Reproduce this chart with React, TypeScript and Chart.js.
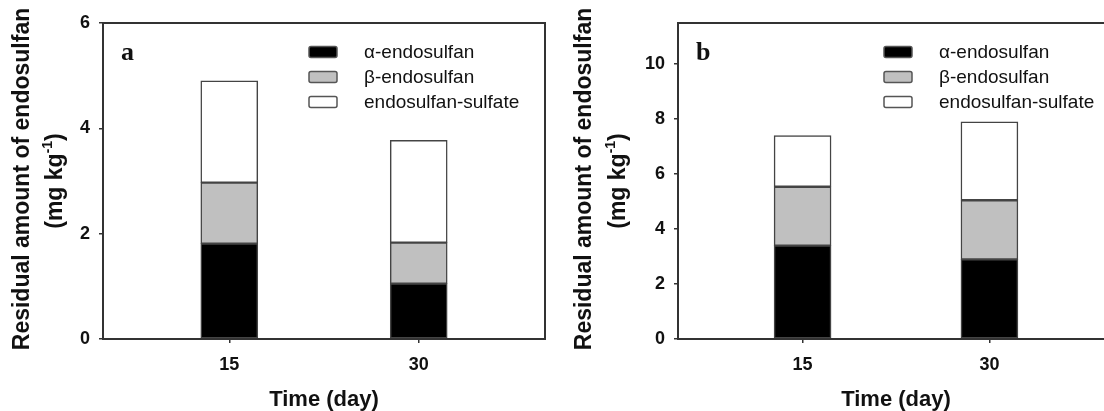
import React, { useEffect, useRef } from 'react';
import { Chart, registerables } from 'chart.js';
Chart.register(...registerables);

// ---- data ----
const timeDays = [15, 30];
const seriesNames = ['α-endosulfan', 'β-endosulfan', 'endosulfan-sulfate'];
const seriesColors = ['#000000', '#c0c0c0', '#ffffff'];
const alphaA = [1.81, 1.05];
const betaA = [1.16, 0.78];
const sulfateA = [1.93, 1.94];
const alphaB = [3.4, 2.9];
const betaB = [2.14, 2.15];
const sulfateB = [1.86, 2.85];
const yTicksA = [0, 2, 4, 6];
const yTicksB = [0, 2, 4, 6, 8, 10];
const yMaxA = 6;
const yMaxB = 11.5;
const xMin = 5;
const xMax = 40;
const yTitleLine1 = 'Residual amount of endosulfan';
const yTitleUnit = ['(mg kg', '-1', ')'];
const xTitle = 'Time (day)';

const SANS = '"Liberation Sans", Arial, sans-serif';
const SERIF = '"Liberation Serif", "Times New Roman", serif';

const decorPlugin = {
  id: 'decor',
  afterDatasetsDraw(chart: any) {
    const opts = chart.options.plugins.decor;
    const { ctx, chartArea: ca } = chart;
    ctx.save();
    // frame
    ctx.strokeStyle = '#333';
    ctx.lineWidth = 2;
    ctx.strokeRect(ca.left, ca.top, ca.right - ca.left, ca.bottom - ca.top);
    // panel letter
    ctx.fillStyle = '#111';
    ctx.font = `bold 26px ${SERIF}`;
    ctx.textAlign = 'left';
    ctx.textBaseline = 'alphabetic';
    ctx.fillText(opts.letter, ca.left + 18, ca.top + 37);
    // legend
    chart.data.datasets.forEach((ds: any, i: number) => {
      const y = ca.top + 29 + 25 * i;
      const bx = ca.left + 206;
      ctx.fillStyle = ds.backgroundColor;
      ctx.strokeStyle = '#555';
      ctx.lineWidth = 1.5;
      ctx.beginPath();
      ctx.roundRect(bx, y - 5.5, 28, 11, 2);
      ctx.fill();
      ctx.stroke();
      ctx.fillStyle = '#111';
      ctx.font = `19px ${SANS}`;
      ctx.textBaseline = 'middle';
      ctx.fillText(ds.label, ca.left + 261, y + 1);
    });
    // y title
    const midY = (ca.top + ca.bottom) / 2;
    ctx.fillStyle = '#111';
    ctx.save();
    ctx.translate(ca.left + opts.t1dx, midY - 2);
    ctx.rotate(-Math.PI / 2);
    ctx.font = `bold 23px ${SANS}`;
    ctx.textAlign = 'center';
    ctx.textBaseline = 'middle';
    ctx.fillText(yTitleLine1, 0, 0);
    ctx.restore();
    ctx.save();
    ctx.translate(ca.left + opts.t2dx, midY);
    ctx.rotate(-Math.PI / 2);
    ctx.textAlign = 'left';
    ctx.textBaseline = 'middle';
    const bigFont = `bold 23px ${SANS}`;
    const supFont = `bold 14px ${SANS}`;
    ctx.font = bigFont;
    const w0 = ctx.measureText(yTitleUnit[0]).width;
    const w2 = ctx.measureText(yTitleUnit[2]).width;
    ctx.font = supFont;
    const w1 = ctx.measureText(yTitleUnit[1]).width;
    let x = -(w0 + w1 + w2) / 2;
    ctx.font = bigFont;
    ctx.fillText(yTitleUnit[0], x, 0);
    x += w0;
    ctx.font = supFont;
    ctx.fillText(yTitleUnit[1], x, -8);
    x += w1;
    ctx.font = bigFont;
    ctx.fillText(yTitleUnit[2], x, 0);
    ctx.restore();
    // x title
    ctx.font = `bold 22px ${SANS}`;
    ctx.textAlign = 'center';
    ctx.textBaseline = 'alphabetic';
    ctx.fillText(xTitle, (ca.left + ca.right) / 2, 406);
    ctx.restore();
  },
};

function makeConfig(
  alpha: number[],
  beta: number[],
  sulfate: number[],
  yTicks: number[],
  yMax: number,
  letter: string,
  yAxisWidth: number,
  padRight: number,
  t1dx: number,
  t2dx: number
): any {
  const series = [alpha, beta, sulfate];
  return {
    type: 'bar',
    data: {
      datasets: series.map((vals, i) => ({
        label: seriesNames[i],
        data: timeDays.map((d, j) => ({ x: d, y: vals[j] })),
        backgroundColor: seriesColors[i],
        borderColor: '#444',
        borderWidth: 1.5,
        borderSkipped: false,
        barThickness: 57,
      })),
    },
    plugins: [decorPlugin],
    options: {
      responsive: false,
      animation: false,
      devicePixelRatio: 1,
      events: [],
      layout: { padding: { top: 23, left: 0, right: padRight, bottom: 0 } },
      plugins: {
        legend: { display: false },
        tooltip: { enabled: false },
        decor: { letter, t1dx, t2dx },
      },
      scales: {
        x: {
          type: 'linear',
          min: xMin,
          max: xMax,
          stacked: true,
          offset: false,
          afterBuildTicks: (s: any) => {
            s.ticks = timeDays.map((v) => ({ value: v }));
          },
          afterFit: (s: any) => {
            s.height = 72;
          },
          grid: {
            offset: false,
            display: true,
            drawOnChartArea: false,
            drawTicks: true,
            tickLength: 4,
            color: '#333',
            lineWidth: 1.5,
          },
          border: { display: false },
          ticks: {
            font: { family: SANS, size: 18, weight: 'bold' },
            color: '#111',
            padding: 11,
            maxRotation: 0,
            autoSkip: false,
            callback: (v: any) => String(v),
          },
        },
        y: {
          min: 0,
          max: yMax,
          stacked: true,
          afterBuildTicks: (s: any) => {
            s.ticks = yTicks.map((v) => ({ value: v }));
          },
          afterFit: (s: any) => {
            s.width = yAxisWidth;
          },
          grid: {
            display: true,
            drawOnChartArea: false,
            drawTicks: true,
            tickLength: 4,
            color: '#333',
            lineWidth: 1.5,
          },
          border: { display: false },
          ticks: {
            font: { family: SANS, size: 18, weight: 'bold' },
            color: '#111',
            padding: 9,
            autoSkip: false,
            callback: (v: any) => String(v),
          },
        },
      },
    },
  };
}

function Panel(props: { config: any; left: number; width: number }) {
  const ref = useRef<HTMLCanvasElement | null>(null);
  useEffect(() => {
    if (!ref.current) return;
    const chart = new Chart(ref.current, props.config);
    return () => chart.destroy();
  }, []);
  return (
    <canvas
      ref={ref}
      width={props.width}
      height={411}
      style={{ position: 'absolute', left: props.left, top: 0, width: props.width, height: 411, display: 'block' }}
    />
  );
}

export default function App() {
  const cfgA = makeConfig(alphaA, betaA, sulfateA, yTicksA, yMaxA, 'a', 103, 15, -80, -47);
  const cfgB = makeConfig(alphaB, betaB, sulfateB, yTicksB, yMaxB, 'b', 118, 26, -93, -59);
  return (
    <div
      style={{
        position: 'absolute',
        left: 0,
        top: 0,
        width: 1104,
        height: 411,
        overflow: 'hidden',
        background: '#fff',
      }}
    >
      <Panel config={cfgA} left={0} width={560} />
      <Panel config={cfgB} left={560} width={580} />
    </div>
  );
}
